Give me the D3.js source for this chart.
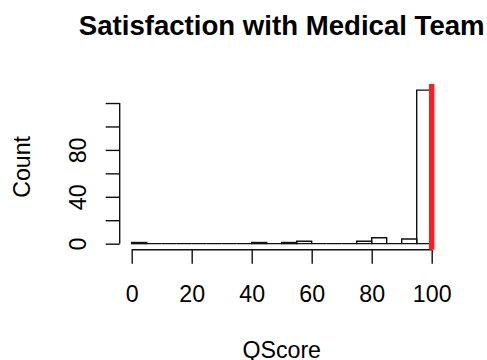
<!DOCTYPE html>
<html>
<head>
<meta charset="utf-8">
<script src="https://cdn.jsdelivr.net/npm/d3@7"></script>
<style>
  body { margin: 0; background: #fff; }
  text { font-family: "Liberation Sans", Arial, Helvetica, sans-serif; fill: #000; }
</style>
</head>
<body>
<script>
// histogram bins (width 5) and counts
var binStarts = [0, 5, 10, 15, 20, 25, 30, 35, 40, 45, 50, 55, 60, 65, 70, 75, 80, 85, 90, 95];
var binEnds   = [5, 10, 15, 20, 25, 30, 35, 40, 45, 50, 55, 60, 65, 70, 75, 80, 85, 90, 95, 100];
var counts    = [1, 0, 0, 0, 0, 0, 0, 0, 1, 0, 1, 2, 0, 0, 0, 2, 5, 0, 4, 131];
var xTicks = [0, 20, 40, 60, 80, 100];
var yTicks = [0, 20, 40, 60, 80, 100, 120];
var yLabels = [0, 40, 80];
var markerValue = 100;

var width = 487, height = 360;
var plot = {left: 119.7, right: 443.7, top: 84, bottom: 249.8};
var labelSize = "23.2px";

var svg = d3.select("body").append("svg")
            .attr("width", width)
            .attr("height", height);

// R style 4% extension of the ranges
var x = d3.scaleLinear().domain([-4, 104]).range([plot.left, plot.right]);
var yMax = d3.max(counts);
var y = d3.scaleLinear().domain([-0.04 * yMax, 1.04 * yMax]).range([plot.bottom, plot.top]);

// bars (zero counts become flat lines on the baseline)
svg.append("g").selectAll("path")
   .data(counts)
   .enter().append("path")
   .attr("d", function(d, i) {
       var x0 = x(binStarts[i]), x1 = x(binEnds[i]), y0 = y(0), y1 = y(d);
       return "M" + x0 + "," + y0 + "L" + x0 + "," + y1 + "L" + x1 + "," + y1 + "L" + x1 + "," + y0 + "Z";
   })
   .attr("fill", "none")
   .attr("stroke", "#111")
   .attr("stroke-width", 1.4);

// x axis
var xAxis = svg.append("g")
               .attr("transform", "translate(0," + plot.bottom + ")")
               .call(d3.axisBottom(x).tickValues(xTicks).tickSize(14).tickSizeOuter(0));
xAxis.select(".domain").remove();
xAxis.append("line")
     .attr("x1", x(xTicks[0])).attr("x2", x(xTicks[xTicks.length - 1]))
     .attr("stroke", "#111").attr("stroke-width", 1.4);
xAxis.selectAll(".tick line").attr("stroke", "#111").attr("stroke-width", 1.4);
xAxis.selectAll(".tick text")
     .attr("y", 52).attr("dy", 0)
     .attr("font-size", labelSize)
     .attr("font-family", "Liberation Sans, Arial, sans-serif")
     .attr("fill", "#000");

// y axis
var yAxis = svg.append("g")
               .attr("transform", "translate(" + plot.left + ",0)")
               .call(d3.axisLeft(y).tickValues(yTicks).tickSize(14).tickSizeOuter(0)
                       .tickFormat(function(d) { return yLabels.indexOf(d) >= 0 ? d : ""; }));
yAxis.select(".domain").remove();
yAxis.append("line")
     .attr("y1", y(yTicks[0])).attr("y2", y(yTicks[yTicks.length - 1]))
     .attr("stroke", "#111").attr("stroke-width", 1.4);
yAxis.selectAll(".tick line").attr("stroke", "#111").attr("stroke-width", 1.4);
yAxis.selectAll(".tick text")
     .attr("transform", "rotate(-90)")
     .attr("x", 0).attr("y", -33.5).attr("dy", 0)
     .attr("text-anchor", "middle")
     .attr("font-size", labelSize)
     .attr("font-family", "Liberation Sans, Arial, sans-serif")
     .attr("fill", "#000");

// red marker line
svg.append("line")
   .attr("x1", x(markerValue)).attr("x2", x(markerValue))
   .attr("y1", plot.top).attr("y2", plot.bottom)
   .attr("stroke", "#ee2227")
   .attr("stroke-width", 5.5);

// title and axis labels
var midX = (plot.left + plot.right) / 2;
svg.append("text")
   .attr("x", midX).attr("y", 34.5)
   .attr("text-anchor", "middle")
   .attr("font-size", "27.6px")
   .attr("font-weight", "bold")
   .text("Satisfaction with Medical Team");

svg.append("text")
   .attr("x", midX).attr("y", 357.5)
   .attr("text-anchor", "middle")
   .attr("font-size", labelSize)
   .text("QScore");

svg.append("text")
   .attr("transform", "translate(29.5," + (plot.top + plot.bottom) / 2 + ") rotate(-90)")
   .attr("text-anchor", "middle")
   .attr("font-size", labelSize)
   .text("Count");
</script>
</body>
</html>
